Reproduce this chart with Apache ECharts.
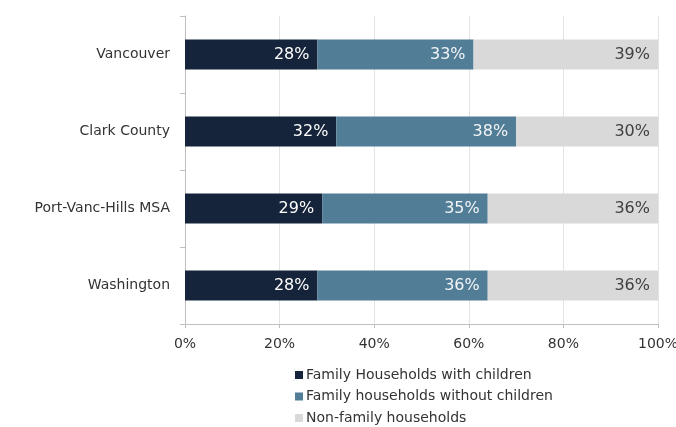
<!DOCTYPE html>
<html>
<head>
<meta charset="utf-8">
<script src="https://cdn.jsdelivr.net/npm/echarts@6/dist/echarts.min.js"></script>
<style>
  html, body { margin: 0; padding: 0; background: #fff; }
  #chart { width: 676px; height: 427px; }
</style>
</head>
<body>
<div id="chart"></div>
<script>
// Household composition by area (share of all households, %)
const areas = ['Vancouver', 'Clark County', 'Port-Vanc-Hills MSA', 'Washington'];
const withChildren = [28, 32, 29, 28];
const withoutChildren = [33, 38, 35, 36];
const nonFamily = [39, 30, 36, 36];
const seriesNames = ['Family Households with children', 'Family households without children', 'Non-family households'];
const xTicks = [0, 20, 40, 60, 80, 100];

const colors = ['#15243a', '#527d96', '#d9d9d9'];
const labelColors = ['#ffffff', '#f2f5f7', '#404040'];
const font = 'DejaVu Sans, sans-serif';

const seriesData = [withChildren, withoutChildren, nonFamily];

const chart = echarts.init(document.getElementById('chart'));
chart.setOption({
  animation: false,
  color: colors,
  grid: { left: 185, right: 18, top: 16, bottom: 103, containLabel: false, outerBoundsMode: 'none' },
  xAxis: {
    type: 'value',
    min: xTicks[0],
    max: xTicks[xTicks.length - 1],
    interval: 20,
    axisLine: { show: true, lineStyle: { color: '#bfbfbf', width: 1 } },
    axisTick: { show: true, length: 4, lineStyle: { color: '#bfbfbf' } },
    axisLabel: { formatter: '{value}%', color: '#333', fontSize: 14, fontFamily: font, margin: 13 },
    splitLine: { show: true, lineStyle: { color: '#e3e3e3', width: 1 } }
  },
  yAxis: {
    type: 'category',
    data: areas,
    inverse: true,
    axisLine: { show: true, lineStyle: { color: '#bfbfbf', width: 1 } },
    axisTick: { show: true, length: 5, lineStyle: { color: '#bfbfbf' } },
    axisLabel: { color: '#333', fontSize: 14, fontFamily: font, margin: 15 },
    splitLine: { show: false }
  },
  legend: {
    orient: 'vertical',
    left: 295,
    top: 367,
    padding: 0,
    itemWidth: 8,
    itemHeight: 8,
    itemGap: 5.5,
    icon: 'rect',
    textStyle: { color: '#333', fontSize: 14, lineHeight: 16, fontFamily: font, padding: [0, 0, 0, -2] },
    data: seriesNames
  },
  series: seriesNames.map((name, i) => ({
    name: name,
    type: 'bar',
    stack: 'total',
    barWidth: 30,
    data: seriesData[i],
    itemStyle: { color: colors[i] },
    label: {
      show: true,
      position: 'insideRight',
      distance: 8,
      formatter: '{c}%',
      color: labelColors[i],
      fontSize: 16,
      fontFamily: font
    }
  }))
});
</script>
</body>
</html>
